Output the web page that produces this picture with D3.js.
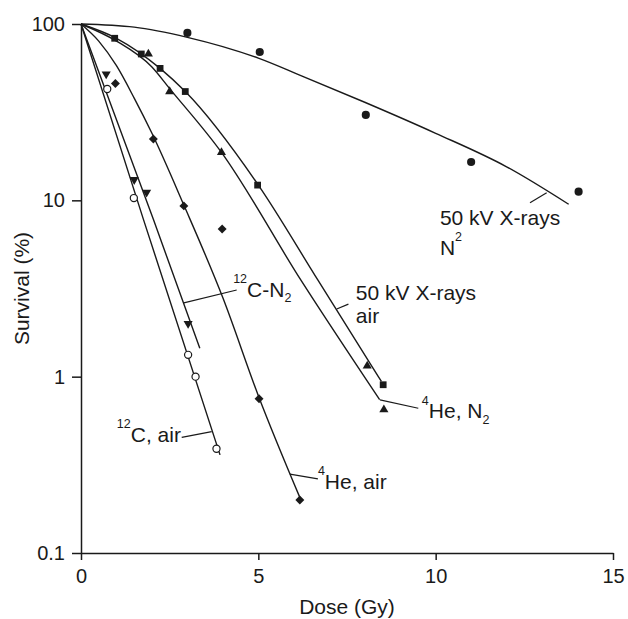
<!DOCTYPE html>
<html>
<head>
<meta charset="utf-8">
<script src="https://cdn.jsdelivr.net/npm/d3@7"></script>
<style>
  body { margin: 0; background: #fff; }
  svg { display: block; font-family: "Liberation Sans", Arial, sans-serif; }
  .axis path, .axis line { stroke: #1a1a1a; stroke-width: 1.5; }
  .axis text { font-size: 20px; fill: #1a1a1a; font-family: "Liberation Sans", Arial, sans-serif; }
  .curve { fill: none; stroke: #1a1a1a; stroke-width: 1.4; }
  .lead { stroke: #1a1a1a; stroke-width: 1.2; }
  .lab { font-size: 21px; fill: #1a1a1a; }
</style>
</head>
<body>
<figure style="margin:0"><svg></svg></figure>
<script>
const $svg = d3.select('svg');

// measured points [dose Gy, survival %]
const xrayN2Pts = [[3, 89], [5.04, 69.4], [8.03, 30.5], [11, 16.5], [14.03, 11.2]];
const xrayAirPts = [[0.95, 83], [1.7, 67.6], [2.23, 56], [2.94, 41.4], [4.98, 12.2], [8.52, 0.9]];
const heN2Pts = [[1.9, 67.6], [2.5, 41.4], [3.96, 18.7], [8.07, 1.15], [8.54, 0.65]];
const heAirPts = [[0.97, 46], [2.04, 22.3], [2.9, 9.3], [3.98, 6.87], [5.02, 0.75], [6.17, 0.2]];
const cN2Pts = [[0.71, 52], [1.5, 13.1], [1.85, 11.1], [3.02, 2.0]];
const cAirPts = [[0.74, 42.8], [1.49, 10.3], [3.02, 1.33], [3.23, 1.0], [3.82, 0.39]];

// fitted curves
const xrayN2Fit = [[0, 100], [1.5, 96], [3, 84], [5, 64], [6.2, 51], [8, 36], [10, 24], [12, 15.5], [13.75, 9.5]];
const xrayAirFit = [[0, 100], [1, 83], [2.23, 56], [2.94, 41.4], [5, 12.2], [6.69, 3.5], [8.47, 0.94]];
const heN2Fit = [[0, 100], [1, 80], [2, 57], [2.5, 43], [3.96, 18.7], [6.21, 3.5], [8.42, 0.74]];
const heAirFit = [[0, 100], [0.5, 80], [1, 58], [1.5, 38], [2, 24], [2.9, 9.4], [4, 2.8], [5, 0.78], [6.2, 0.2]];
const cN2Fit = [[0, 100], [2.04, 7.8], [3.35, 1.45]];
const cAirFit = [[0, 100], [1.76, 7.8], [3.92, 0.36]];

const xTicks = [0, 5, 10, 15];
const yTicks = [0.1, 1, 10, 100];

// dimensions
const W = 628, H = 619;
const margin = {top: 24, bottom: 66, left: 81, right: 15};
const width = W - margin.left - margin.right;
const height = H - margin.top - margin.bottom;

// scales
const scaleX = d3.scaleLinear().domain([0, 15]).range([0, width]);
const scaleY = d3.scaleLog().domain([0.1, 100]).range([height, 0]);

$svg.attr('width', W).attr('height', H);
const $vis = $svg.append('g')
  .attr('transform', 'translate(' + margin.left + ',' + margin.top + ')');

$vis.append('g')
  .attr('class', 'axis axis--x')
  .attr('transform', 'translate(0,' + height + ')')
  .call(d3.axisBottom(scaleX).tickValues(xTicks).tickSize(7).tickPadding(9).tickSizeOuter(0).tickFormat(d3.format('d')));

$vis.append('g')
  .attr('class', 'axis axis--y')
  .call(d3.axisLeft(scaleY).tickValues(yTicks).tickSize(9).tickPadding(7).tickSizeOuter(0)
    .tickFormat(d => d < 1 ? '0.1' : String(d)));

$vis.append('text')
  .attr('class', 'lab')
  .attr('x', width / 2)
  .attr('y', height + 61)
  .attr('text-anchor', 'middle')
  .text('Dose (Gy)');

$vis.append('text')
  .attr('class', 'lab')
  .attr('transform', 'translate(' + (28.5 - margin.left) + ',' + (height / 2) + ') rotate(-90)')
  .attr('text-anchor', 'middle')
  .text('Survival (%)');

// curves
const line = d3.line()
  .x(d => scaleX(d[0]))
  .y(d => scaleY(d[1]))
  .curve(d3.curveMonotoneX);

[xrayN2Fit, xrayAirFit, heN2Fit, heAirFit, cN2Fit, cAirFit].forEach(fit => {
  $vis.append('path').attr('class', 'curve').attr('d', line(fit));
});

// markers
const series = [
  {pts: xrayN2Pts, sym: d3.symbolCircle, size: 52, rot: 0, fill: '#1a1a1a'},
  {pts: xrayAirPts, sym: d3.symbolSquare, size: 46, rot: 0, fill: '#1a1a1a'},
  {pts: heN2Pts, sym: d3.symbolTriangle, size: 36, rot: 0, fill: '#1a1a1a'},
  {pts: heAirPts, sym: d3.symbolSquare, size: 40, rot: 45, fill: '#1a1a1a'},
  {pts: cN2Pts, sym: d3.symbolTriangle, size: 36, rot: 180, fill: '#1a1a1a'},
  {pts: cAirPts, sym: d3.symbolCircle, size: 40, rot: 0, fill: '#fff'}
];

series.forEach(s => {
  $vis.selectAll(null)
    .data(s.pts)
    .enter()
    .append('path')
    .attr('d', d3.symbol().type(s.sym).size(s.size))
    .attr('transform', d => 'translate(' + scaleX(d[0]) + ',' + scaleY(d[1]) + ') rotate(' + s.rot + ')')
    .style('fill', s.fill)
    .style('stroke', '#1a1a1a')
    .style('stroke-width', s.fill === '#fff' ? 1.2 : 0);
});

// labels: text anchor [dose, survival], parts, leader from -> to
const labels = [
  {at: [10.12, 7.24], parts: [['50 kV X-rays']]},
  {at: [10.12, 4.9], parts: [['N'], ['2', 'sup']], lead: [[12.66, 9.7], [13.13, 11.05]]},
  {at: [7.75, 2.72], parts: [['50 kV X-rays']]},
  {at: [7.75, 2.01], parts: [['air']], lead: [[7.21, 2.42], [7.54, 2.58]]},
  {at: [9.61, 0.58], parts: [['4', 'sup'], ['He, N'], ['2', 'sub']], lead: [[8.43, 0.738], [9.51, 0.662]]},
  {at: [6.68, 0.231], parts: [['4', 'sup'], ['He, air']], lead: [[5.89, 0.28], [6.68, 0.263]]},
  {at: [4.29, 2.84], parts: [['12', 'sup'], ['C-N'], ['2', 'sub']], lead: [[2.9, 2.62], [4.39, 3.1]]},
  {at: [1.01, 0.428], parts: [['12', 'sup'], ['C, air']], lead: [[2.84, 0.453], [3.685, 0.488]]}
];

labels.forEach(l => {
  if (l.lead) {
    $vis.append('line').attr('class', 'lead')
      .attr('x1', scaleX(l.lead[0][0])).attr('y1', scaleY(l.lead[0][1]))
      .attr('x2', scaleX(l.lead[1][0])).attr('y2', scaleY(l.lead[1][1]));
  }
  const $t = $vis.append('text').attr('class', 'lab')
    .attr('x', scaleX(l.at[0])).attr('y', scaleY(l.at[1]));
  let shift = 0;
  l.parts.forEach(p => {
    const want = p[1] === 'sup' ? -13.5 : p[1] === 'sub' ? 5.5 : 0;
    $t.append('tspan')
      .attr('dy', want - shift)
      .style('font-size', p[1] ? '12.5px' : null)
      .text(p[0]);
    shift = want;
  });
});
</script>
</body>
</html>
